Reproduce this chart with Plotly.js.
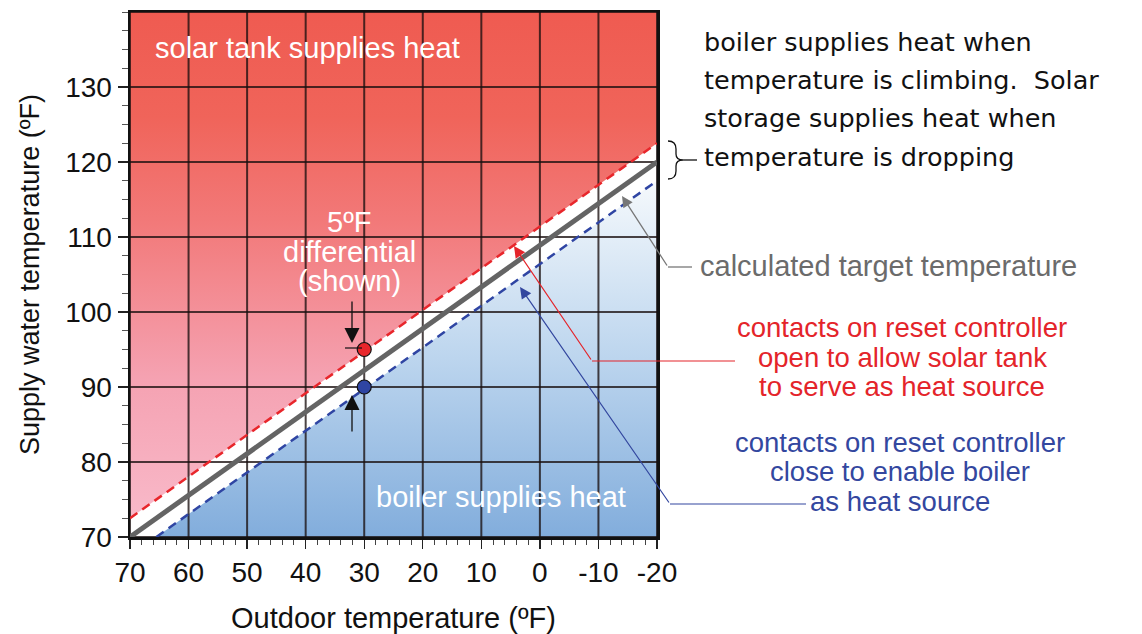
<!DOCTYPE html>
<html>
<head>
<meta charset="utf-8">
<script src="https://cdn.plot.ly/plotly-3.0.1.min.js"></script>
<style>html,body{margin:0;padding:0;background:#fff;}#chart{width:1142px;height:634px;}</style>
</head>
<body>
<div id="chart"></div>
<script>
// ---- data ----
const outdoorEnds = [70, -20];          // outdoor temperature (°F) at the ends of the reset line
const targetEnds = [70, 120];           // calculated target supply temperature (°F)
const differential = 5;                 // °F differential
const pointOutdoor = [30, 30];
const pointSupply = [95, 90];
const pointColors = ['#E8262B', '#2F45A3'];
const xTickVals = [70, 60, 50, 40, 30, 20, 10, 0, -10, -20];
const xTickText = ['70', '60', '50', '40', '30', '20', '10', '0', '-10', '-20'];
const yTickVals = [70, 80, 90, 100, 110, 120, 130];
const yRange = [70, 140];
const xRange = [70, -20];
const rightNote = ['boiler supplies heat when', 'temperature is climbing.  Solar', 'storage supplies heat when', 'temperature is dropping'];
const redNote = ['contacts on reset controller', 'open to allow solar tank', 'to serve as heat source'];
const blueNote = ['contacts on reset controller', 'close to enable boiler', 'as heat source'];
const diffNote = ['5ºF', 'differential', '(shown)'];

// ---- derived lines ----
const half = differential / 2;
const slope = (targetEnds[1] - targetEnds[0]) / (outdoorEnds[1] - outdoorEnds[0]);
const upper = targetEnds.map(v => v + half);
const lower = targetEnds.map(v => v - half);
// where the lower line crosses the bottom of the chart
const lowerStartX = outdoorEnds[0] + (yRange[0] - lower[0]) / slope;
const lowerX = [lowerStartX, outdoorEnds[1]];
const lowerY = [yRange[0], lower[1]];

// grid lines built from tick values
const gx = [], gy = [];
xTickVals.forEach(v => { gx.push(v, v, null); gy.push(yRange[0], yRange[1], null); });
yTickVals.concat([yRange[1]]).forEach(v => { gx.push(xRange[0], xRange[1], null); gy.push(v, v, null); });

const FONT = 'Liberation Sans, Arial, sans-serif';

const traces = [
  { // solar tank region
    x: [outdoorEnds[0], outdoorEnds[1], outdoorEnds[1], outdoorEnds[0]],
    y: [upper[0], upper[1], yRange[1], yRange[1]],
    mode: 'none', fill: 'toself', hoverinfo: 'skip',
    fillgradient: { type: 'vertical', start: yRange[0], stop: yRange[1],
      colorscale: [[0, '#F9BCCC'], [0.3, '#F5A2B2'], [0.6, '#F27979'], [0.8, '#F0645A'], [1, '#EF5B51']] }
  },
  { // boiler region
    x: [lowerX[0], lowerX[1], lowerX[1]],
    y: [lowerY[0], lowerY[1], yRange[0]],
    mode: 'none', fill: 'toself', hoverinfo: 'skip',
    fillgradient: { type: 'vertical', start: yRange[0], stop: lower[1],
      colorscale: [[0, '#82ADDC'], [0.5, '#BCD5EE'], [1, '#F5F9FC']] }
  },
  { // grid
    x: gx, y: gy, mode: 'lines', hoverinfo: 'skip',
    line: { color: 'rgba(25,15,15,0.78)', width: 2 }
  },
  { x: outdoorEnds, y: upper, mode: 'lines', line: { color: '#E8262B', width: 2.5, dash: '9px,6px' } },
  { x: lowerX, y: lowerY, mode: 'lines', line: { color: '#2F45A3', width: 2.5, dash: '9px,6px' } },
  { x: outdoorEnds, y: targetEnds, mode: 'lines', line: { color: '#646464', width: 5 } },
  { x: pointOutdoor, y: pointSupply, mode: 'markers',
    marker: { size: 14, color: pointColors, line: { color: '#111', width: 1.2 } } }
];

// pixel -> paper helpers for annotation placement
const L = 130, R = 657, T = 12, B = 537;
const px = x => (x - L) / (R - L);
const py = y => (B - y) / (B - T);

const ann = [];
function txt(x, y, text, color, size, anchor, family) {
  ann.push({ xref: 'paper', yref: 'paper', x: px(x), y: py(y), text: text, showarrow: false,
    xanchor: anchor || 'center', yanchor: 'middle',
    font: { family: family || FONT, size: size, color: color } });
}
function arrow(tipX, tipY, tailX, tailY, color, width, size) {
  ann.push({ xref: 'paper', yref: 'paper', x: px(tipX), y: py(tipY), text: '', showarrow: true,
    ax: tailX - tipX, ay: tailY - tipY, arrowhead: 2, arrowsize: size, arrowwidth: width,
    arrowcolor: color, standoff: 0, startstandoff: 0 });
}

txt(153, 48, 'solar tank supplies heat', '#ffffff', 29, 'left');
txt(374, 497, 'boiler supplies heat', '#ffffff', 29, 'left');
[222, 252, 281].forEach((y, i) => txt(349, y, diffNote[i], '#ffffff', 29));
[42, 80, 118, 157].forEach((y, i) => txt(702, y, rightNote[i], '#111111', 25.5, 'left', 'DejaVu Sans, sans-serif'));
txt(698, 266, 'calculated target temperature', '#6B6B6B', 29, 'left');
[327, 357, 386].forEach((y, i) => txt(902, y, redNote[i], '#E4242A', 27.5));
[442, 471.5, 501].forEach((y, i) => txt(900, y, blueNote[i], '#33479F', 27.5));

arrow(622, 196, 668, 267, '#777777', 1.3, 1.7);
arrow(514, 246, 592, 361, '#E4242A', 1.2, 1.9);
arrow(520, 287, 670, 504, '#33479F', 1.2, 1.9);
arrow(352, 343, 352, 300, '#111111', 1.3, 2.3);
arrow(352, 395, 352, 433, '#111111', 1.3, 2.3);

const shapes = [];
function seg(x0, y0, x1, y1, color, w) {
  shapes.push({ type: 'line', xref: 'paper', yref: 'paper', x0: px(x0), y0: py(y0), x1: px(x1), y1: py(y1),
    line: { color: color, width: w } });
}
seg(668, 267, 692, 267, '#777777', 1.3);
seg(592, 361, 735, 361, '#E4242A', 1.2);
seg(670, 504, 806, 504, '#33479F', 1.2);
seg(345, 348, 362, 348, '#111111', 1.2);
seg(683, 160, 697, 160, '#111111', 1.3);
// curly brace
const P = (x, y) => px(x).toFixed(5) + ',' + py(y).toFixed(5);
shapes.push({ type: 'path', xref: 'paper', yref: 'paper',
  path: 'M' + P(668, 141) + ' Q' + P(676, 141) + ' ' + P(676, 149) + ' L' + P(676, 154) +
        ' Q' + P(676, 160) + ' ' + P(683, 160) + ' Q' + P(676, 160) + ' ' + P(676, 166) +
        ' L' + P(676, 171) + ' Q' + P(676, 179) + ' ' + P(668, 179),
  line: { color: '#111111', width: 1.3 } });

const layout = {
  width: 1142, height: 634,
  margin: { l: 130, r: 485, t: 12, b: 97, pad: 0 },
  paper_bgcolor: '#ffffff', plot_bgcolor: '#ffffff',
  showlegend: false,
  font: { family: FONT, color: '#111' },
  xaxis: {
    range: xRange, showgrid: false, zeroline: false,
    tickmode: 'array', tickvals: xTickVals, ticktext: xTickText,
    tickfont: { size: 28, color: '#111' },
    ticks: 'outside', ticklen: 9, tickwidth: 1.3, tickcolor: '#222',
    minor: { dtick: 2, ticks: 'outside', ticklen: 5, tickwidth: 1, tickcolor: '#444', showgrid: false },
    showline: true, linecolor: '#111', linewidth: 2.5, mirror: true,
    title: { text: 'Outdoor temperature (ºF)', font: { size: 29, color: '#111' }, standoff: 22 }
  },
  yaxis: {
    range: yRange, showgrid: false, zeroline: false,
    tickmode: 'array', tickvals: yTickVals,
    tickfont: { size: 28, color: '#111' },
    ticks: 'outside', ticklen: 10, tickwidth: 1.3, tickcolor: '#222',
    minor: { dtick: 2.5, ticks: 'outside', ticklen: 6, tickwidth: 1, tickcolor: '#555', showgrid: false },
    showline: true, linecolor: '#111', linewidth: 2.5, mirror: true,
    title: { text: 'Supply water temperature (ºF)', font: { size: 27, color: '#111' }, standoff: 18 }
  },
  annotations: ann,
  shapes: shapes
};

Plotly.newPlot('chart', traces, layout, { staticPlot: true, displayModeBar: false });
</script>
</body>
</html>
